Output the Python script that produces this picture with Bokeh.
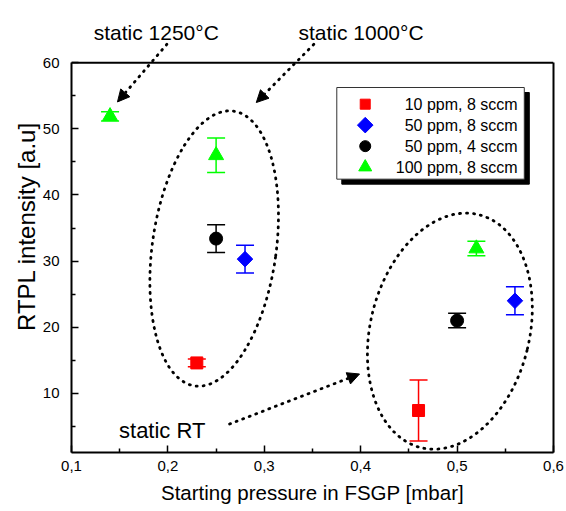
import numpy as np
from bokeh.plotting import figure
from bokeh.models import (ColumnDataSource, Whisker, TeeHead, Arrow, NormalHead,
                          Label, FixedTicker, CustomJSTickFormatter, Range1d, LinearAxis)
from bokeh.core.properties import value
from bokeh.embed import file_html
from bokeh.resources import INLINE

FONT = "Liberation Sans"

# ---- data ----
x_10ppm_8 = [0.23, 0.46]
y_10ppm_8 = [14.6, 7.4]
e_10ppm_8 = [0.6, 4.6]

x_50ppm_8 = [0.28, 0.56]
y_50ppm_8 = [30.3, 24.0]
e_50ppm_8 = [2.1, 2.1]

x_50ppm_4 = [0.25, 0.50]
y_50ppm_4 = [33.4, 21.0]
e_50ppm_4 = [2.1, 1.1]

x_100ppm_8 = [0.14, 0.25, 0.52]
y_100ppm_8 = [51.9, 46.0, 31.9]
e_100ppm_8 = [0.7, 2.6, 1.1]

series_labels = ["10 ppm, 8 sccm", "50 ppm, 8 sccm", "50 ppm, 4 sccm", "100 ppm, 8 sccm"]
x_ticks = [0.1, 0.2, 0.3, 0.4, 0.5, 0.6]
x_minor = [0.15, 0.25, 0.35, 0.45, 0.55]
y_ticks = [10, 20, 30, 40, 50, 60]
y_minor = [5, 15, 25, 35, 45, 55]

X_MIN, X_MAX = 0.1, 0.6
Y_MIN, Y_MAX = 1.05, 60.0      # visible axis box
Y_TOP = 69.41                  # headroom above the box for the annotations

# group ellipses (annotation)
grp_x = [0.248, 0.4925]
grp_y = [31.9, 19.4]
grp_w = [0.1285, 0.165]
grp_h = [42.0, 36.3]
grp_angle_deg = [-8, -14]

# arrows (annotation)
arr_x0 = [0.199, 0.3514, 0.264]
arr_y0 = [62.8, 62.8, 5.36]
arr_x1 = [0.1477, 0.2917, 0.3988]
arr_y1 = [54.07, 53.98, 12.92]

p = figure(width=564, height=509, output_backend="svg", toolbar_location=None,
           x_range=Range1d(X_MIN, X_MAX), y_range=Range1d(Y_MIN, Y_TOP),
           min_border_left=71, min_border_right=11, min_border_top=0, min_border_bottom=57)
p.background_fill_color = "white"
p.border_fill_color = "white"
p.grid.visible = False
p.outline_line_color = None

for ax in (p.xaxis[0], p.yaxis[0]):
    ax.axis_line_width = 2
    ax.axis_line_color = "black"
    ax.major_tick_in = 7
    ax.major_tick_out = 0
    ax.minor_tick_in = 4
    ax.minor_tick_out = 0
    ax.major_tick_line_width = 1.5
    ax.minor_tick_line_width = 1.5
    ax.major_tick_line_color = "black"
    ax.minor_tick_line_color = "black"
    ax.major_label_text_font = FONT
    ax.major_label_text_font_size = "15px"
    ax.major_label_text_color = "black"
    ax.axis_label_text_font = FONT
    ax.axis_label_text_font_style = "normal"
    ax.axis_label_text_color = "black"

p.xaxis[0].ticker = FixedTicker(ticks=x_ticks, minor_ticks=x_minor)
p.yaxis[0].ticker = FixedTicker(ticks=y_ticks, minor_ticks=y_minor)
p.yaxis[0].bounds = (Y_MIN, Y_MAX)
p.xaxis[0].formatter = CustomJSTickFormatter(code="return tick.toFixed(1).replace('.', ',');")
p.xaxis[0].major_label_standoff = 8
p.yaxis[0].major_label_standoff = 12
p.xaxis[0].axis_label = "Starting pressure in FSGP [mbar]"
p.yaxis[0].axis_label = "RTPL intensity [a.u]"
p.xaxis[0].axis_label_text_font_size = "20.5px"
p.yaxis[0].axis_label_text_font_size = "24px"
p.xaxis[0].axis_label_standoff = 7
p.yaxis[0].axis_label_standoff = 0

# right side of the box: a bare axis line limited to the box
right_ax = LinearAxis(ticker=FixedTicker(ticks=[]), bounds=(Y_MIN, Y_MAX),
                      axis_line_width=2, axis_line_color="black",
                      major_tick_in=0, major_tick_out=0, minor_tick_in=0, minor_tick_out=0,
                      major_label_text_font_size="0px")
p.add_layout(right_ax, "right")
# top side of the box
p.segment(x0=[X_MIN], y0=[Y_MAX], x1=[X_MAX], y1=[Y_MAX], line_color="black",
          line_width=2)

# group ellipses
p.ellipse(x=grp_x, y=grp_y, width=grp_w, height=grp_h,
          angle=list(np.deg2rad(grp_angle_deg)), fill_color=None,
          line_color="black", line_width=2.8, line_dash="1 6", line_cap="round")

# arrows
arr_src = ColumnDataSource(dict(x0=arr_x0, y0=arr_y0, x1=arr_x1, y1=arr_y1))
p.add_layout(Arrow(x_start="x0", y_start="y0", x_end="x1", y_end="y1", source=arr_src,
                   line_color="black", line_width=2.8, line_dash="1 6", line_cap="round",
                   end=NormalHead(size=12, fill_color="black", line_color="black")))

series = [
    (x_10ppm_8, y_10ppm_8, e_10ppm_8, "#ff0000", "square", 12, 0.0),
    (x_50ppm_8, y_50ppm_8, e_50ppm_8, "#0000ff", "square", 11, np.pi / 4),
    (x_50ppm_4, y_50ppm_4, e_50ppm_4, "black", "circle", 13, 0.0),
    (x_100ppm_8, y_100ppm_8, e_100ppm_8, "#00ff00", "triangle", 15, 0.0),
]
for xs, ys, es, col, mk, sz, ang in series:
    src = ColumnDataSource(dict(x=xs, y=ys,
                                upper=[a + b for a, b in zip(ys, es)],
                                lower=[a - b for a, b in zip(ys, es)]))
    p.add_layout(Whisker(source=src, base="x", upper="upper", lower="lower",
                         dimension="height", line_color=col, line_width=1.5,
                         upper_head=TeeHead(size=18, line_color=col, line_width=1.5),
                         lower_head=TeeHead(size=18, line_color=col, line_width=1.5)))
    p.scatter(x="x", y="y", source=src, marker=mk, size=sz, angle=ang,
              fill_color=col, line_color=col)

# legend (drawn manually to match the boxed, right-aligned look)
leg_left, leg_right, leg_top, leg_bottom = 0.3752, 0.5697, 56.25, 42.39
dx_sh, dy_sh = 0.0052, 0.756
p.quad(left=[leg_left + dx_sh], right=[leg_right + dx_sh], top=[leg_top - dy_sh],
       bottom=[leg_bottom - dy_sh], fill_color="black", line_color="black")
p.quad(left=[leg_left], right=[leg_right], top=[leg_top], bottom=[leg_bottom],
       fill_color="white", line_color="#333333", line_width=1)
leg_rows = [53.73, 50.56, 47.38, 44.21]
leg_mx = 0.4047
leg_tx = 0.5628
leg_markers = [("square", "#ff0000", 10, 0.0), ("square", "#0000ff", 11, np.pi / 4),
               ("circle", "black", 11, 0.0), ("triangle", "#00ff00", 13, 0.0)]
for (mk, col, sz, ang), ry in zip(leg_markers, leg_rows):
    p.scatter(x=[leg_mx], y=[ry], marker=mk, size=sz, angle=ang,
              fill_color=col, line_color=col)
p.text(x=[leg_tx] * 4, y=leg_rows, text=series_labels, text_align="right",
       text_baseline="middle", text_font=value(FONT), text_font_size=value("16px"),
       text_color="black")

# annotations
p.add_layout(Label(x=0.1879, y=64.6, text="static 1250°C", text_align="center",
                   text_baseline="alphabetic", text_font=FONT, text_font_size="21px",
                   text_color="black"))
p.add_layout(Label(x=0.4003, y=64.6, text="static 1000°C", text_align="center",
                   text_baseline="alphabetic", text_font=FONT, text_font_size="21px",
                   text_color="black"))
p.add_layout(Label(x=0.1493, y=4.35, text="static RT", text_align="left",
                   text_baseline="alphabetic", text_font=FONT, text_font_size="22px",
                   text_color="black"))

open("out.html", "w").write(file_html(p, INLINE))
